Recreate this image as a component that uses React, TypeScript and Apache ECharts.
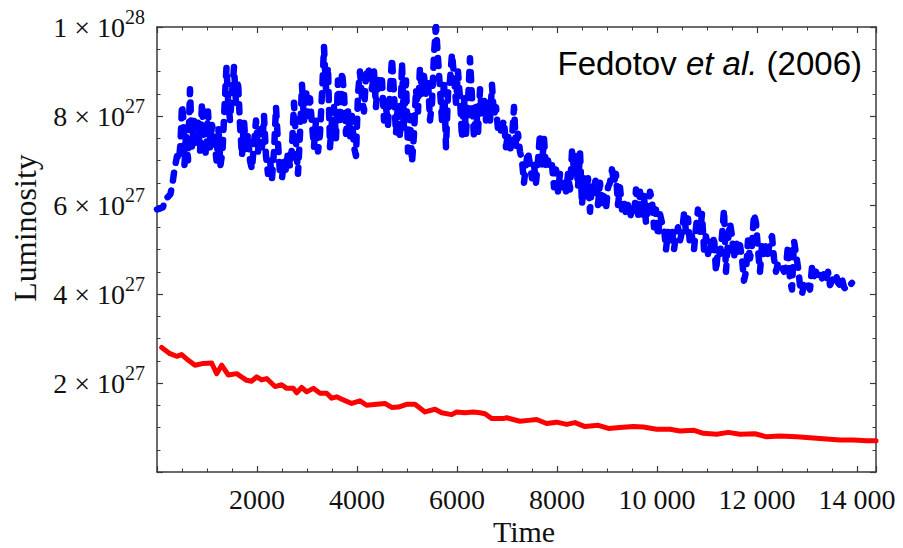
import React, { useEffect, useRef } from "react";
import * as echarts from "echarts";

// Time axis ticks and luminosity ticks (luminosity in units of 1e27)
const xTicks = [2000, 4000, 6000, 8000, 10000, 12000, 14000];
const yTicks = [2, 4, 6, 8, 10];

// Red curve: [time, luminosity / 1e27]
const redSeries: [number, number][] = [
  [93, 2.8], [260, 2.66], [393, 2.6], [493, 2.64], [627, 2.51], [760, 2.4], [927, 2.44],
  [1093, 2.45], [1193, 2.21], [1293, 2.4], [1427, 2.18], [1593, 2.21], [1793, 2.06],
  [1893, 2.04], [1993, 2.14], [2093, 2.07], [2193, 2.1], [2360, 1.92], [2493, 1.96],
  [2593, 1.88], [2727, 1.88], [2793, 1.78], [2893, 1.9], [2993, 1.8], [3127, 1.88],
  [3260, 1.77], [3393, 1.77], [3493, 1.66], [3593, 1.69], [3727, 1.62], [3893, 1.54],
  [4060, 1.6], [4193, 1.5], [4393, 1.52], [4560, 1.54], [4693, 1.45], [4827, 1.46],
  [4993, 1.52], [5160, 1.52], [5360, 1.35], [5560, 1.41], [5693, 1.33], [5893, 1.29],
  [5993, 1.35], [6160, 1.33], [6327, 1.35], [6460, 1.33], [6560, 1.31], [6693, 1.2],
  [6927, 1.2], [6993, 1.22], [7260, 1.14], [7427, 1.16], [7593, 1.18], [7793, 1.09],
  [7993, 1.12], [8193, 1.07], [8360, 1.11], [8560, 1.02], [8827, 1.05], [9027, 0.98],
  [9260, 1.0], [9527, 1.02], [9727, 1.01], [9993, 0.96], [10260, 0.96], [10460, 0.92],
  [10727, 0.94], [10927, 0.87], [11193, 0.85], [11427, 0.89], [11660, 0.85], [11960, 0.86],
  [12193, 0.79], [12460, 0.81], [12793, 0.79], [13060, 0.77], [13393, 0.74], [13660, 0.72],
  [13927, 0.72], [14193, 0.7], [14380, 0.7],
];

// Blue (dashed) curve: [time, luminosity / 1e27]
const blueSeries: [number, number][] = [
  [0, 5.9], [60, 5.92], [120, 5.95], [170, 6.15], [220, 6.18], [270, 6.25], [310, 6.48],
  [350, 6.8], [400, 7.1], [440, 7.0], [470, 7.4], [500, 8.25], [530, 7.9], [550, 6.9],
  [580, 7.6], [620, 7.0], [660, 8.6], [700, 7.3], [740, 7.9], [780, 7.4], [820, 7.85],
  [860, 7.2], [900, 8.3], [940, 7.5], [980, 7.1], [1020, 8.1], [1060, 7.3], [1100, 7.8],
  [1140, 7.55], [1190, 7.0], [1230, 7.7], [1270, 6.9], [1310, 7.2], [1350, 8.2], [1390, 9.1],
  [1420, 8.4], [1460, 7.9], [1500, 8.5], [1540, 9.1], [1580, 8.3], [1620, 8.8], [1660, 7.8],
  [1700, 7.1], [1740, 7.9], [1780, 7.2], [1820, 7.6], [1860, 7.0], [1900, 6.8], [1940, 7.4],
  [1980, 7.9], [2020, 7.2], [2060, 7.7], [2100, 7.3], [2140, 8.0], [2180, 7.1], [2220, 6.7],
  [2260, 7.0], [2300, 6.6], [2340, 7.2], [2380, 8.2], [2420, 7.4], [2460, 6.7], [2500, 6.6],
  [2540, 7.0], [2580, 6.75], [2620, 7.2], [2660, 6.85], [2700, 7.3], [2740, 8.3], [2780, 7.4],
  [2820, 6.7], [2860, 7.6], [2900, 8.7], [2940, 7.9], [2980, 8.6], [3020, 8.0], [3060, 8.4],
  [3100, 7.8], [3140, 7.3], [3180, 7.9], [3220, 7.2], [3260, 7.6], [3300, 8.5], [3340, 9.55],
  [3380, 8.6], [3420, 9.1], [3460, 7.3], [3500, 7.9], [3540, 8.2], [3580, 7.5], [3620, 8.8],
  [3660, 7.8], [3700, 9.0], [3740, 8.5], [3780, 7.6], [3820, 8.1], [3860, 7.5], [3900, 8.0],
  [3940, 7.3], [3980, 7.1], [4020, 8.5], [4060, 9.0], [4100, 8.4], [4140, 8.1], [4180, 8.9],
  [4220, 9.1], [4260, 8.9], [4300, 8.6], [4340, 9.0], [4380, 8.2], [4420, 8.9], [4460, 8.6],
  [4500, 8.8], [4540, 7.9], [4580, 8.2], [4620, 7.8], [4660, 8.6], [4700, 9.3], [4740, 8.5],
  [4780, 7.6], [4820, 8.3], [4860, 7.5], [4900, 9.2], [4940, 7.7], [4980, 8.8], [5020, 7.2],
  [5060, 8.0], [5100, 6.95], [5140, 7.6], [5180, 8.6], [5220, 8.1], [5260, 9.1], [5300, 8.5],
  [5340, 8.9], [5380, 8.5], [5420, 8.8], [5460, 7.9], [5500, 8.3], [5540, 9.4], [5580, 10.0],
  [5620, 9.3], [5660, 8.6], [5700, 7.9], [5740, 8.8], [5780, 7.3], [5820, 8.5], [5860, 8.8],
  [5900, 9.4], [5940, 8.9], [5980, 8.3], [6020, 9.0], [6060, 8.4], [6100, 7.5], [6140, 8.4],
  [6180, 7.6], [6220, 8.3], [6260, 9.3], [6300, 8.4], [6340, 7.5], [6380, 8.2], [6420, 7.6],
  [6460, 8.6], [6500, 8.0], [6540, 8.4], [6580, 7.9], [6620, 8.3], [6660, 7.9], [6700, 8.7],
  [6740, 8.0], [6780, 8.2], [6820, 7.7], [6860, 7.6], [6900, 7.75], [6940, 7.9], [6980, 7.3],
  [7020, 7.6], [7060, 7.2], [7100, 7.5], [7140, 8.2], [7180, 7.3], [7220, 7.6], [7260, 7.2],
  [7300, 7.0], [7340, 6.5], [7380, 6.9], [7420, 7.2], [7460, 6.9], [7500, 6.6], [7540, 6.9],
  [7580, 6.5], [7620, 7.0], [7660, 7.6], [7700, 6.9], [7740, 7.5], [7780, 6.8], [7820, 7.0],
  [7860, 6.8], [7900, 6.9], [7940, 6.4], [7980, 6.8], [8020, 6.3], [8060, 6.7], [8100, 6.4],
  [8140, 6.6], [8180, 6.3], [8220, 6.7], [8260, 6.35], [8300, 7.2], [8340, 6.8], [8380, 7.1],
  [8420, 6.4], [8460, 7.2], [8500, 6.0], [8540, 6.6], [8580, 6.2], [8620, 6.6], [8660, 5.85],
  [8700, 6.5], [8740, 6.4], [8780, 6.6], [8820, 6.0], [8860, 6.5], [8900, 6.0], [8940, 6.2],
  [8980, 5.9], [9020, 6.4], [9060, 6.5], [9100, 6.8], [9140, 6.5], [9180, 6.7], [9220, 6.0],
  [9260, 6.4], [9300, 5.9], [9340, 6.1], [9380, 5.8], [9420, 6.0], [9460, 5.7], [9500, 5.9],
  [9540, 5.75], [9580, 6.35], [9620, 5.7], [9660, 6.3], [9700, 5.7], [9740, 6.2], [9780, 5.6],
  [9820, 5.9], [9860, 6.3], [9900, 6.1], [9940, 5.5], [9980, 5.9], [10020, 5.3], [10060, 5.8],
  [10100, 5.6], [10140, 5.5], [10180, 5.0], [10220, 5.4], [10260, 5.1], [10300, 5.5], [10340, 5.0],
  [10380, 5.3], [10420, 5.5], [10460, 5.2], [10500, 5.4], [10540, 5.8], [10580, 5.4], [10620, 5.7],
  [10660, 5.1], [10700, 5.3], [10740, 5.0], [10780, 5.5], [10820, 5.9], [10860, 5.4], [10900, 5.8],
  [10940, 5.0], [10980, 5.3], [11020, 4.9], [11060, 5.2], [11100, 4.9], [11140, 5.3], [11180, 4.5],
  [11220, 5.0], [11260, 4.9], [11300, 5.3], [11340, 5.9], [11380, 4.5], [11420, 5.2], [11460, 5.6],
  [11500, 5.3], [11540, 4.8], [11580, 5.2], [11620, 4.9], [11660, 5.1], [11700, 4.8], [11740, 4.3],
  [11780, 4.5], [11820, 5.2], [11860, 4.8], [11900, 5.1], [11940, 5.8], [11980, 5.6], [12020, 5.0],
  [12060, 4.5], [12100, 5.1], [12140, 4.9], [12180, 5.1], [12220, 4.9], [12260, 5.2], [12300, 5.3],
  [12340, 4.8], [12380, 4.5], [12420, 4.7], [12460, 4.6], [12500, 4.6], [12540, 4.5], [12580, 4.6],
  [12620, 5.1], [12660, 4.3], [12700, 4.1], [12740, 5.2], [12780, 4.9], [12820, 4.6], [12860, 4.2],
  [12900, 4.0], [12940, 4.2], [12980, 4.1], [13020, 4.2], [13060, 4.1], [13100, 4.6], [13140, 4.4],
  [13180, 4.5], [13220, 4.4], [13260, 4.5], [13300, 4.35], [13340, 4.45], [13380, 4.3], [13420, 4.5],
  [13460, 4.2], [13500, 4.3], [13540, 4.4], [13580, 4.45], [13620, 4.25], [13660, 4.2], [13700, 4.35],
  [13740, 4.15], [13780, 4.1], [13820, 4.12], [13860, 4.2], [13900, 4.25],
];

const X_MAX = 14380;
const SERIF = "'Liberation Serif', 'Times New Roman', serif";
const SANS = "'Liberation Sans', Arial, sans-serif";
const AXIS_COLOR = "#3a3a3a";

function xLabel(v: number): string {
  if (!xTicks.includes(v)) return "";
  if (v >= 10000) return `${Math.floor(v / 1000)} 000`;
  return String(v);
}

function yLabel(v: number): string {
  const r = Math.round(v * 1000) / 1000;
  if (!yTicks.includes(r)) return "";
  if (r === 10) return "{b|1 × 10}{s|28}";
  return `{b|${r} × 10}{s|27}`;
}

export default function App() {
  const ref = useRef<HTMLDivElement>(null);
  useEffect(() => {
    if (!ref.current) return;
    const chart = echarts.init(ref.current, undefined, { renderer: "svg" });
    const axisCommon = {
      type: "value" as const,
      axisLine: { show: true, onZero: false, lineStyle: { color: AXIS_COLOR, width: 1.5 } },
      axisTick: { show: true, inside: true, length: 6, lineStyle: { color: AXIS_COLOR, width: 1.2 } },
      minorTick: { show: true, splitNumber: 4, length: 3.5, lineStyle: { color: AXIS_COLOR, width: 1 } },
      splitLine: { show: false },
      minorSplitLine: { show: false },
    };
    chart.setOption({
      animation: false,
      backgroundColor: "#ffffff",
      grid: { left: 157, right: 27, top: 27, bottom: 76, containLabel: false },
      xAxis: [
        {
          ...axisCommon,
          position: "bottom",
          min: 0,
          max: X_MAX,
          interval: 2000,
          axisLabel: {
            show: true,
            formatter: xLabel,
            fontFamily: SERIF,
            fontSize: 28,
            color: "#111",
            margin: 13,
          },
        },
        {
          ...axisCommon,
          position: "top",
          min: 0,
          max: X_MAX,
          interval: 2000,
          axisLabel: { show: false },
        },
      ],
      yAxis: [
        {
          ...axisCommon,
          position: "left",
          min: 0,
          max: 10,
          interval: 2,
          axisLabel: {
            show: true,
            formatter: yLabel,
            margin: 12,
            color: "#111",
            rich: {
              b: { fontFamily: SERIF, fontSize: 28, color: "#111", lineHeight: 40 },
              s: { fontFamily: SERIF, fontSize: 20, color: "#111", lineHeight: 20, verticalAlign: "top" },
            },
          },
        },
        {
          ...axisCommon,
          position: "right",
          min: 0,
          max: 10,
          interval: 2,
          axisLabel: { show: false },
        },
      ],
      series: [
        {
          type: "line",
          name: "red",
          data: redSeries,
          xAxisIndex: 0,
          yAxisIndex: 0,
          showSymbol: false,
          symbol: "none",
          lineStyle: { color: "#ff0000", width: 5, cap: "round", join: "round" },
          silent: true,
        },
        {
          type: "line",
          name: "blue",
          data: blueSeries,
          xAxisIndex: 0,
          yAxisIndex: 0,
          showSymbol: false,
          symbol: "none",
          lineStyle: { color: "#0000ff", width: 6.5, type: [8, 10], cap: "round", join: "round" },
          silent: true,
        },
      ],
      graphic: [
        {
          type: "text",
          x: 862,
          y: 63,
          style: {
            text: "{n|Fedotov }{i|et al.}{n| (2006)}",
            align: "right",
            verticalAlign: "middle",
            rich: {
              n: { fontFamily: SANS, fontSize: 33, fill: "#000" },
              i: { fontFamily: SANS, fontSize: 33, fontStyle: "italic", fill: "#000" },
            },
          },
        },
        {
          type: "text",
          x: 25,
          y: 228,
          rotation: Math.PI / 2,
          style: {
            text: "Luminosity",
            fontFamily: SERIF,
            fontSize: 32,
            fill: "#111",
            align: "center",
            verticalAlign: "middle",
          },
        },
        {
          type: "text",
          x: 524,
          y: 531,
          style: {
            text: "Time",
            fontFamily: SERIF,
            fontSize: 30,
            fill: "#111",
            align: "center",
            verticalAlign: "middle",
          },
        },
      ],
    });
    return () => chart.dispose();
  }, []);
  return (
    <div
      ref={ref}
      style={{ position: "absolute", left: 0, top: 0, width: 903, height: 548, background: "#fff" }}
    />
  );
}
